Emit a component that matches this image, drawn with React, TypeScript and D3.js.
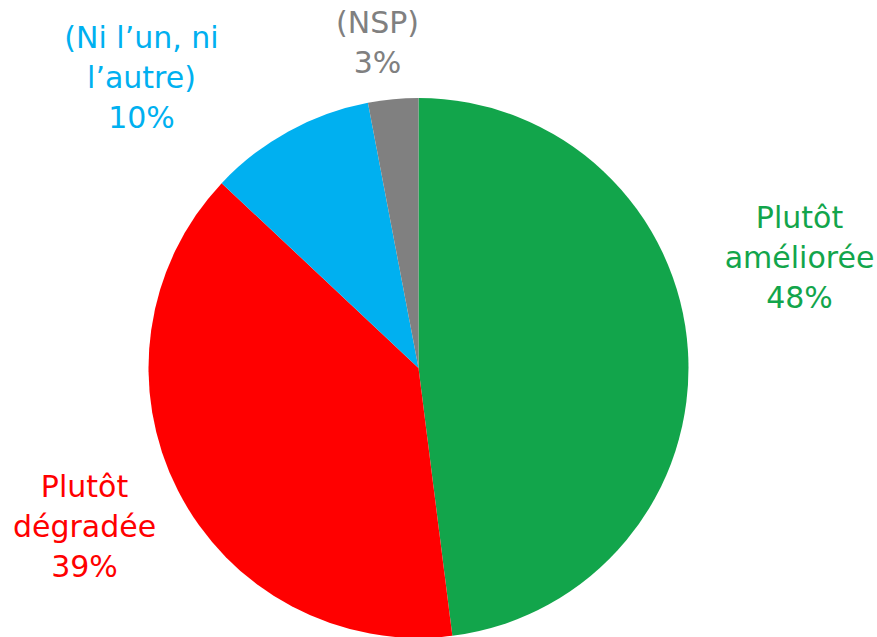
import React from "react";
import * as d3 from "d3";

const categories = ["Plutôt améliorée", "Plutôt dégradée", "(Ni l'un, ni l'autre)", "(NSP)"];
const values = [48, 39, 10, 3];
const colors = ["#12A54B", "#FF0000", "#00B0F0", "#808080"];
const labelLines = [
  ["Plutôt", "améliorée", "48%"],
  ["Plutôt", "dégradée", "39%"],
  ["(Ni l\u2019un, ni", "l\u2019autre)", "10%"],
  ["(NSP)", "3%"],
];
// label anchor (center x, first baseline y) offsets relative to pie center
const labelPos: [number, number][] = [
  [381, -140],
  [-334, 129],
  [-277, -320],
  [-41, -335],
];

const W = 877;
const H = 637;
const cx = 418.5;
const cy = 368;
const R = 270;

export default function App() {
  const pie = d3.pie<number>().sort(null).value((d) => d)(values);
  const arc = d3.arc<d3.PieArcDatum<number>>().innerRadius(0).outerRadius(R);
  return (
    <svg
      width={W}
      height={H}
      style={{ position: "absolute", left: 0, top: 0, background: "#fff" }}
      fontFamily="'DejaVu Sans', sans-serif"
    >
      <g transform={`translate(${cx},${cy})`}>
        {pie.map((p, i) => (
          <path key={i} d={arc(p) || ""} fill={colors[i]} />
        ))}
        {labelLines.map((lines, i) => (
          <text
            key={categories[i]}
            x={labelPos[i][0]}
            y={labelPos[i][1]}
            fill={colors[i]}
            fontSize={30}
            textAnchor="middle"
          >
            {lines.map((l, j) => (
              <tspan key={j} x={labelPos[i][0]} dy={j === 0 ? 0 : 40}>
                {l}
              </tspan>
            ))}
          </text>
        ))}
      </g>
    </svg>
  );
}
